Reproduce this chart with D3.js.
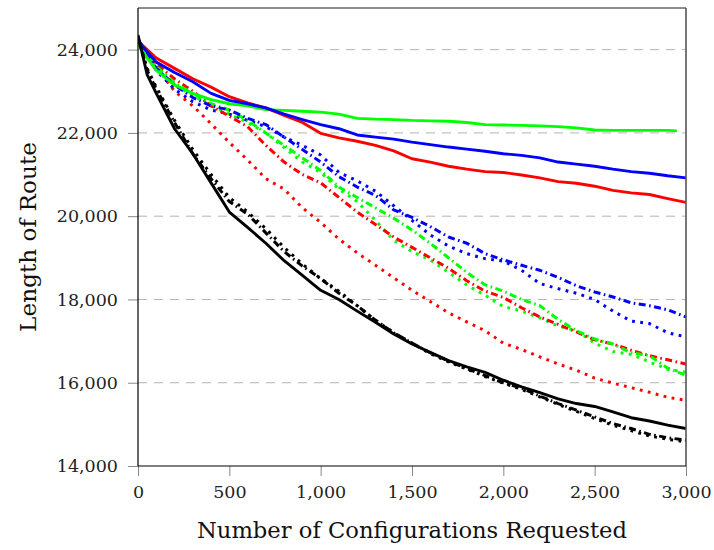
<!DOCTYPE html>
<html><head><meta charset="utf-8">
<script src="https://cdn.jsdelivr.net/npm/d3@7"></script>
<style>html,body{margin:0;padding:0;background:#fff;}</style>
</head><body>
<svg id="chart" width="714" height="550"></svg>
<script>
const xs = [0,50,100,200,300,400,500,600,700,800,900,1000,1100,1200,1300,1400,1500,1600,1700,1800,1900,2000,2100,2200,2300,2400,2500,2600,2700,2800,2900,3000];
const xsGreenSolid = [0,50,100,200,300,400,500,600,700,800,900,1000,1100,1200,1300,1400,1500,1600,1700,1800,1900,2000,2100,2200,2300,2400,2500,2600,2700,2800,2900,2950];

const greenSolid = [24150,23800,23500,23150,22950,22800,22700,22650,22560,22540,22520,22500,22450,22350,22330,22320,22300,22290,22280,22250,22200,22190,22180,22170,22150,22120,22070,22060,22060,22060,22060,22050];
const blueSolid  = [24200,23950,23700,23450,23230,22950,22780,22700,22600,22450,22320,22200,22100,21950,21900,21850,21780,21720,21660,21610,21560,21500,21460,21400,21300,21250,21200,21130,21070,21030,20970,20920];
const redSolid   = [24200,24000,23800,23550,23300,23100,22870,22720,22600,22420,22250,21990,21880,21800,21700,21570,21380,21300,21200,21130,21070,21050,20990,20920,20830,20790,20720,20620,20560,20520,20420,20330];
const blackSolid = [24350,23400,22950,22100,21500,20800,20100,19730,19350,18930,18580,18220,18000,17720,17450,17170,16930,16730,16530,16380,16250,16060,15900,15760,15610,15500,15430,15300,15160,15080,14980,14900];
const blackDashDot = [24300,23500,23050,22250,21500,20900,20350,20050,19600,19150,18800,18500,18150,17850,17500,17200,16950,16720,16520,16340,16170,16000,15870,15680,15500,15340,15180,15020,14900,14760,14680,14620];
const blackDotted  = [24300,23550,23100,22300,21600,21000,20450,20100,19700,19250,18850,18500,18200,17850,17500,17200,16950,16700,16500,16330,16150,15990,15840,15660,15480,15310,15140,14980,14850,14720,14640,14580];
const redDotted    = [24200,23900,23600,23000,22650,22220,21770,21350,20900,20650,20200,19850,19450,19120,18820,18520,18220,17950,17680,17460,17250,16950,16800,16620,16450,16300,16110,15990,15880,15770,15650,15580];
const redDashDot   = [24200,23950,23650,23300,23000,22650,22400,22150,21700,21300,21000,20800,20450,20100,19800,19500,19250,19000,18750,18450,18200,18050,17800,17580,17400,17220,17030,16930,16780,16650,16550,16450];
const greenDotted  = [24150,23850,23550,23150,22900,22650,22450,22250,22000,21650,21300,21050,20650,20350,19900,19420,19150,18950,18650,18350,18100,17830,17720,17560,17360,17250,16950,16750,16680,16500,16320,16250];
const greenDashDot = [24150,23850,23600,23200,22950,22700,22550,22300,22000,21700,21400,21100,20700,20450,20200,19950,19670,19350,19000,18650,18350,18200,18000,17850,17520,17250,17050,16930,16720,16650,16350,16180];
const blueDashDot  = [24250,23900,23550,23150,22850,22650,22550,22350,22200,21900,21600,21300,20950,20700,20500,20150,19970,19750,19500,19350,19100,18950,18820,18700,18530,18330,18180,18060,17920,17850,17750,17580];
const blueDotted   = [24250,23850,23500,23050,22750,22550,22450,22300,22150,21900,21700,21470,21050,20850,20600,20250,19900,19550,19280,19100,18980,18920,18700,18380,18260,18150,18000,17720,17480,17420,17200,17100];

const yTicks = [14000,16000,18000,20000,22000,24000];
const xTicks = [0,500,1000,1500,2000,2500,3000];

const series = [
  {x: xs, y: redDotted, color:"#ff0000", style:"dotted"},
  {x: xs, y: greenDotted, color:"#00ff00", style:"dotted"},
  {x: xs, y: blueDotted, color:"#0000ff", style:"dotted"},
  {x: xs, y: redDashDot, color:"#ff0000", style:"dashdot"},
  {x: xs, y: greenDashDot, color:"#00ff00", style:"dashdot"},
  {x: xs, y: blueDashDot, color:"#0000ff", style:"dashdot"},
  {x: xsGreenSolid, y: greenSolid, color:"#00ff00", style:"solid"},
  {x: xs, y: redSolid, color:"#ff0000", style:"solid"},
  {x: xs, y: blueSolid, color:"#0000ff", style:"solid"},
  {x: xs, y: blackDotted, color:"#000000", style:"dotted"},
  {x: xs, y: blackDashDot, color:"#000000", style:"dashdot"},
  {x: xs, y: blackSolid, color:"#000000", style:"solid"}
];

const svg = d3.select("#chart");
const pL = 138, pR = 686, pT = 8, pB = 466;
const x = d3.scaleLinear().domain([0,3000]).range([pL,pR]);
const y = d3.scaleLinear().domain([14000,25000]).range([pB,pT]);
const font = "'DejaVu Serif', serif";

// grid
svg.append("g").selectAll("line").data(yTicks.filter(d=>d>14000)).join("line")
  .attr("x1", pL).attr("x2", pR)
  .attr("y1", d=>y(d)).attr("y2", d=>y(d))
  .attr("stroke", "#b3b3b3").attr("stroke-width", 1).attr("stroke-dasharray", "9,7");

// axes
const yAxis = d3.axisLeft(y).tickValues(yTicks).tickSize(10).tickFormat(d3.format(","));
const gy = svg.append("g").attr("transform", `translate(${pL},0)`).call(yAxis);
gy.select(".domain").remove();
gy.selectAll(".tick line").attr("stroke", "#888").attr("stroke-width", 1);
gy.selectAll(".tick text").attr("x", -20).attr("font-family", font).attr("font-size", 17.5).attr("fill", "#222");

const xAxis = d3.axisBottom(x).tickValues(xTicks).tickSize(10).tickFormat(d3.format(","));
const gx = svg.append("g").attr("transform", `translate(0,${pB})`).call(xAxis);
gx.select(".domain").remove();
gx.selectAll(".tick line").attr("stroke", "#888").attr("stroke-width", 1);
gx.selectAll(".tick text").attr("y", 20).attr("font-family", font).attr("font-size", 17.5).attr("fill", "#222");

// clip
svg.append("clipPath").attr("id","clip").append("rect")
  .attr("x", pL).attr("y", pT).attr("width", pR-pL).attr("height", pB-pT);

const dash = {solid: null, dotted: "2.8,5.4", dashdot: "7,3.5,1.6,3.5"};
const line = d3.line().x(d=>x(d[0])).y(d=>y(d[1]));
const gl = svg.append("g").attr("clip-path", "url(#clip)");
series.forEach(s => {
  gl.append("path")
    .datum(s.x.map((v,i)=>[v, s.y[i]]))
    .attr("d", line)
    .attr("fill", "none")
    .attr("stroke", s.color)
    .attr("stroke-width", s.style === "solid" ? 2.9 : 3)
    .attr("stroke-linejoin", "round")
    .attr("stroke-dasharray", dash[s.style]);
});

// frame
svg.append("line").attr("x1", pL).attr("x2", pR).attr("y1", pT).attr("y2", pT).attr("stroke", "#666").attr("stroke-width", 1.6);
svg.append("line").attr("x1", pR).attr("x2", pR).attr("y1", pT).attr("y2", pB).attr("stroke", "#555").attr("stroke-width", 1.6);
svg.append("line").attr("x1", pL).attr("x2", pL).attr("y1", pT).attr("y2", pB).attr("stroke", "#000").attr("stroke-width", 1.2);
svg.append("line").attr("x1", pL).attr("x2", pR).attr("y1", pB).attr("y2", pB).attr("stroke", "#000").attr("stroke-width", 1.2);

// titles
svg.append("text").attr("x", 412).attr("y", 538).attr("text-anchor", "middle")
  .attr("font-family", font).attr("font-size", 22).attr("fill", "#111")
  .attr("textLength", 430).attr("lengthAdjust", "spacingAndGlyphs")
  .text("Number of Configurations Requested");
svg.append("text").attr("transform", "translate(36,237) rotate(-90)").attr("text-anchor", "middle")
  .attr("font-family", font).attr("font-size", 22).attr("fill", "#111")
  .attr("textLength", 190).attr("lengthAdjust", "spacingAndGlyphs")
  .text("Length of Route");
</script>
</body></html>
